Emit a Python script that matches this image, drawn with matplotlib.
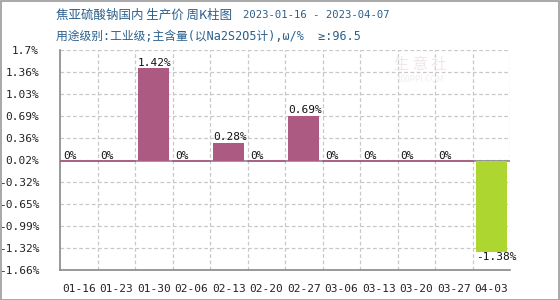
import matplotlib
matplotlib.use("Agg")
import matplotlib.pyplot as plt
import numpy as np
from matplotlib.patches import Rectangle

categories = ["01-16", "01-23", "01-30", "02-06", "02-13", "02-20", "02-27",
              "03-06", "03-13", "03-20", "03-27", "04-03"]
values = [0, 0, 1.42, 0, 0.28, 0, 0.69, 0, 0, 0, 0, -1.38]
yticks = [-1.66, -1.32, -0.99, -0.65, -0.32, 0.02, 0.36, 0.69, 1.03, 1.36, 1.7]
title1a = "焦亚硫酸钠国内 生产价 周K柱图"
title1b = "2023-01-16 - 2023-04-07"
title2 = "用途级别:工业级;主含量(以Na2S2O5计),ω/%  ≥:96.5"

plt.rcParams['font.family'] = ['Noto Sans CJK SC', 'DejaVu Sans']
mono = ['DejaVu Sans Mono', 'Noto Sans CJK SC']

fig = plt.figure(figsize=(5.6, 3.0), dpi=100)
W, H = 560, 300
ax = fig.add_axes([60 / W, 1 - 270 / H, 450 / W, 220 / H])

pos_c = "#AD5A82"
neg_c = "#ADD631"
bw = 0.83
x = np.arange(len(categories))
colors = [neg_c if v < 0 else pos_c for v in values]
ax.bar(x, values, width=bw, color=colors, zorder=3)
for xi, v in zip(x, values):
    if v == 0:
        ax.plot([xi - 0.5, xi + 0.5], [0, 0], color=pos_c, lw=1.2, zorder=3)

ax.set_xlim(-0.5, len(categories) - 0.5)
ax.set_ylim(yticks[0], yticks[-1])
ax.set_yticks(yticks)
ax.set_yticklabels([f"{t:g}%" for t in yticks], family=mono, fontsize=8)
ax.set_xticks(x)
ax.set_xticklabels(categories, family=mono, fontsize=8)
ax.tick_params(length=0, pad=10, colors="#222222")
ax.tick_params(axis='y', pad=15)

for gx in np.arange(0.5, len(categories), 1.0):
    ax.axvline(gx, color="#c8c8c8", ls=(0, (3, 2)), lw=0.9, zorder=1)
for gy in yticks[1:]:
    ax.axhline(gy, color="#c8c8c8", ls=(0, (3, 2)), lw=0.9, zorder=1)
ax.axhline(0, color="#888888", lw=1.2, zorder=2)

for s in ["top", "right"]:
    ax.spines[s].set_visible(False)
for s in ["left", "bottom"]:
    ax.spines[s].set_color("#888888")
    ax.spines[s].set_linewidth(1.2)

for xi, v in zip(x, values):
    lab = "0%" if v == 0 else f"{v:.2f}%"
    if v >= 0:
        ax.text(xi - bw / 2, v + 0.01, lab, ha="left", va="bottom", family=mono, fontsize=8, color="#111111", zorder=4)
    else:
        ax.text(xi - bw / 2, v - 0.01, lab, ha="left", va="top", family=mono, fontsize=8, color="#111111", zorder=4)

tc = "#2A5F8C"
fig.text(56 / W, 1 - 15 / H, title1a, fontsize=9, color=tc, va="center", ha="left")
fig.text(243 / W, 1 - 15 / H, title1b, fontsize=7.6, family=mono, color=tc, va="center", ha="left")
fig.text(56 / W, 1 - 36 / H, title2, fontsize=8.5, family=mono, color=tc, va="center", ha="left")

fig.text(420 / W, 1 - 64 / H, "生 意 社", fontsize=11, color="#f2e6e6", ha="center", va="center", zorder=0)
fig.text(420 / W, 1 - 80 / H, "100PPI.COM", fontsize=6, color="#f0eeee", ha="center", va="center", zorder=0)

fig.patches.append(Rectangle((0.5 / W, 0.5 / H), 1 - 1.5 / W, 1 - 1.5 / H, transform=fig.transFigure,
                             fill=False, edgecolor="#999999", lw=1.2))

fig.savefig("out.png", dpi=100)
